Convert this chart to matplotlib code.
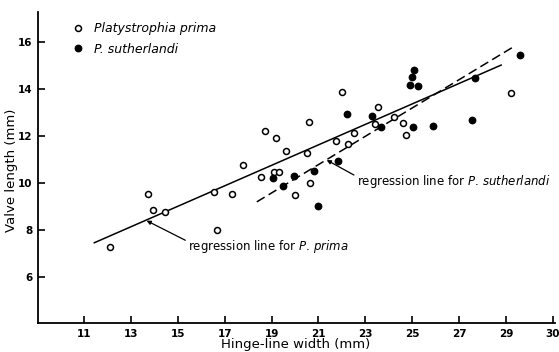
import numpy as np
import matplotlib
matplotlib.use("Agg")
import matplotlib.pyplot as plt
from matplotlib.lines import Line2D

# Platystrophia prima (open circles): hinge-line width, valve length (mm)
prima_x = [12.11, 13.74, 13.93, 14.46, 16.55, 16.69, 17.30, 17.80, 18.54, 18.72,
           19.19, 19.11, 19.33, 19.61, 20.00, 20.50, 20.61, 20.64, 21.73, 21.99,
           22.28, 22.52, 23.41, 23.53, 24.20, 24.59, 24.73, 29.20]
prima_y = [7.29, 9.55, 8.85, 8.78, 9.60, 8.00, 9.55, 10.77, 10.26, 12.21,
           11.93, 10.48, 10.48, 11.37, 9.50, 11.29, 12.61, 9.99, 11.80, 13.87,
           11.66, 12.15, 12.53, 13.25, 12.81, 12.56, 12.04, 13.84]

# P. sutherlandi (filled circles)
suth_x = [19.05, 19.49, 19.96, 20.80, 20.97, 21.83, 22.21, 23.27, 23.66, 24.92,
          24.98, 25.08, 25.25, 25.02, 25.88, 27.54, 27.67, 29.60]
suth_y = [10.23, 9.87, 10.31, 10.51, 9.02, 10.95, 12.94, 12.86, 12.39, 14.18,
          14.52, 14.82, 14.12, 12.37, 12.42, 12.68, 14.47, 15.45]

# regression lines (end points)
prima_line_x = [11.44, 28.79]
prima_line_y = [7.46, 15.02]
suth_line_x = [18.37, 29.32]
suth_line_y = [9.20, 15.80]

xtick_pos = [11, 13, 15, 17, 19, 21, 23, 25, 27, 29, 31]
xtick_labels = ["11", "13", "15", "17", "19", "21", "23", "25", "27", "29", "30"]
ytick_pos = [6, 8, 10, 12, 14, 16]

fig = plt.figure(figsize=(5.59, 3.52), dpi=100)
ax = fig.add_axes([0.068, 0.082, 0.925, 0.884])

ax.plot(prima_line_x, prima_line_y, color="black", lw=1.1, zorder=1)
ax.plot(suth_line_x, suth_line_y, color="black", lw=1.1,
        linestyle=(0, (6, 3)), zorder=1)

ax.plot(prima_x, prima_y, "o", ms=4.3, mfc="white", mec="black", mew=1.1,
        linestyle="none", zorder=3)
ax.plot(suth_x, suth_y, "o", ms=4.6, mfc="black", mec="black",
        linestyle="none", zorder=3)

ax.set_xlim(9.04, 31.09)
ax.set_ylim(4.04, 17.28)

ax.set_xticks(xtick_pos)
ax.set_xticklabels(xtick_labels)
ax.set_yticks(ytick_pos)
ax.tick_params(direction="in", length=5, width=1.2, labelsize=7.5, pad=4)
for lab in ax.get_xticklabels() + ax.get_yticklabels():
    lab.set_fontweight("bold")

for side in ["top", "right"]:
    ax.spines[side].set_visible(False)
for side in ["left", "bottom"]:
    ax.spines[side].set_linewidth(1.3)

ax.set_xlabel("Hinge-line width (mm)", fontsize=9.5)
ax.set_ylabel("Valve length (mm)", fontsize=9.5)
ax.xaxis.set_label_coords(0.499, -0.048)
ax.yaxis.set_label_coords(-0.038, 0.49)

handles = [
    Line2D([], [], marker="o", ls="none", ms=4.3, mfc="white", mec="black", mew=1.1),
    Line2D([], [], marker="o", ls="none", ms=4.6, mfc="black", mec="black"),
]
ax.legend(handles, ["Platystrophia prima", "P. sutherlandi"], loc="upper left",
          bbox_to_anchor=(0.05, 0.995), frameon=False,
          prop={"style": "italic", "size": 9}, handletextpad=0.9,
          handlelength=0.8, labelspacing=0.6, borderaxespad=0.3)

arrow = dict(arrowstyle="-|>", color="black", lw=0.9, mutation_scale=6,
             shrinkA=0, shrinkB=0)
ax.annotate(r"regression line for $\it{P.\,prima}$", xy=(13.67, 8.40),
            xytext=(15.44, 7.29), fontsize=8.5, va="center", ha="left",
            arrowprops=dict(arrow, relpos=(0, 0.8)))
ax.annotate(r"regression line for $\it{P.\,sutherlandi}$", xy=(21.35, 10.98),
            xytext=(22.63, 10.06), fontsize=8.5, va="center", ha="left",
            arrowprops=dict(arrow, relpos=(0, 0.8)))

fig.savefig("out.png", dpi=100)
